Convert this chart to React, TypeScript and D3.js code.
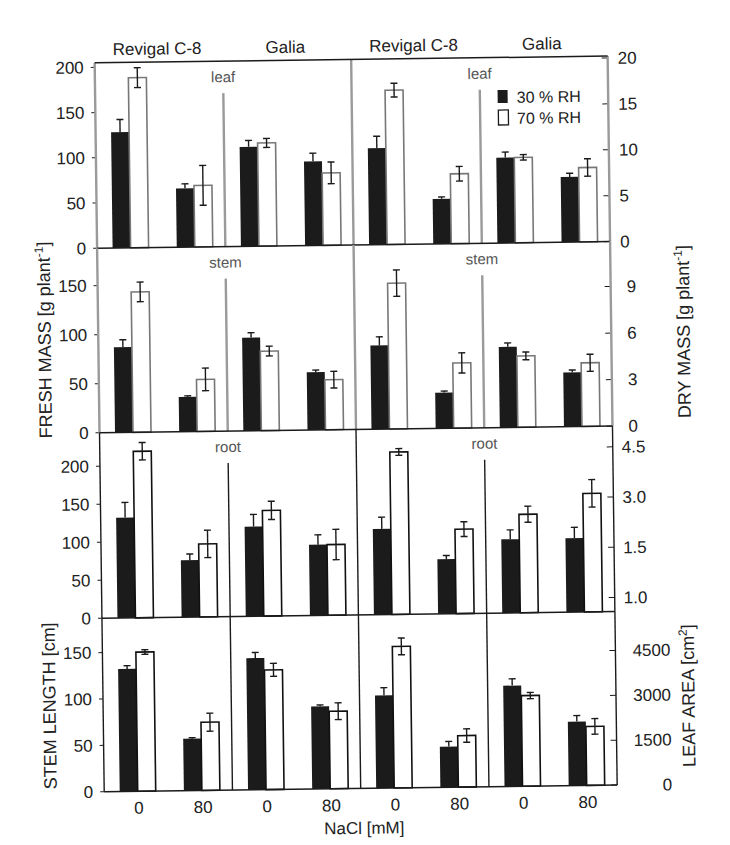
import React from "react";
import * as d3 from "d3";

// ---------- categories ----------
const groups = ["Revigal C-8|0", "Revigal C-8|80", "Galia|0", "Galia|80"];
const cultivars = ["Revigal C-8", "Galia"];
const naclLabels = ["0", "80", "0", "80"];
const seriesNames = ["30 % RH", "70 % RH"];
const organs = ["leaf", "stem", "root", ""];

// ---------- row 1: leaf ----------
const leafFresh30 = [128, 65, 110, 93];
const leafFresh30Err = [14, 5, 7, 9];
const leafFresh70 = [188, 68, 114, 80];
const leafFresh70Err = [11, 22, 5, 12];
const leafDry30 = [10.5, 4.9, 9.3, 7.1];
const leafDry30Err = [1.3, 0.2, 0.6, 0.4];
const leafDry70 = [16.8, 7.6, 9.3, 8.1];
const leafDry70Err = [0.75, 0.8, 0.3, 0.95];

// ---------- row 2: stem ----------
const stemFresh30 = [87, 35.5, 95, 59];
const stemFresh30Err = [7.5, 1, 5, 2];
const stemFresh70 = [143, 53, 81, 51];
const stemFresh70Err = [10, 11.5, 5, 8.5];
const stemDry30 = [5.4, 2.3, 5.2, 3.5];
const stemDry30Err = [0.55, 0.1, 0.25, 0.15];
const stemDry70 = [9.4, 4.2, 4.6, 4.1];
const stemDry70Err = [0.85, 0.65, 0.25, 0.55];

// ---------- row 3: root ----------
const rootFresh30 = [132, 75, 118, 93];
const rootFresh30Err = [20, 8, 16, 13];
const rootFresh70 = [219, 96, 139, 93];
const rootFresh70Err = [11.5, 18, 12, 20];
// dry root in the printed axis's own linear units (tick "1.0" sits at position 0)
const rootDry30 = [2.14, 1.21, 1.78, 1.79];
const rootDry30Err = [0.35, 0.11, 0.28, 0.32];
const rootDry70 = [4.43, 2.1, 2.52, 3.12];
const rootDry70Err = [0.1, 0.22, 0.24, 0.41];

// ---------- row 4: stem length / leaf area ----------
const stemLength30 = [132, 56, 142, 89];
const stemLength30Err = [3.5, 1, 6, 1.5];
const stemLength70 = [150, 73.5, 129, 83.5];
const stemLength70Err = [2.5, 9.7, 7, 9];
const leafArea30 = [3100, 1360, 3370, 2140];
const leafArea30Err = [257, 170, 225, 200];
const leafArea70 = [4730, 1720, 3030, 1970];
const leafArea70Err = [280, 225, 105, 260];

// ---------- axes ----------
const leftDomains = [[0, 205], [0, 188], [0, 244], [0, 187]];
const rightDomains = [[0, 20.2], [0, 11.9], [-0.42, 5.12], [0, 5800]];
const leftTicks = [[0, 50, 100, 150, 200], [0, 50, 100, 150], [0, 50, 100, 150, 200], [0, 50, 100, 150]];
const rightTicks = [[0, 5, 10, 15, 20], [0, 3, 6, 9], [0, 1.5, 3, 4.5], [0, 1500, 3000, 4500]];
const rightTickLabels = [
  ["0", "5", "10", "15", "20"],
  ["0", "3", "6", "9"],
  ["1.0", "1.5", "3.0", "4.5"],
  ["0", "1500", "3000", "4500"],
];

const leftSeries = [
  [leafFresh30, leafFresh30Err, leafFresh70, leafFresh70Err],
  [stemFresh30, stemFresh30Err, stemFresh70, stemFresh70Err],
  [rootFresh30, rootFresh30Err, rootFresh70, rootFresh70Err],
  [stemLength30, stemLength30Err, stemLength70, stemLength70Err],
];
const rightSeries = [
  [leafDry30, leafDry30Err, leafDry70, leafDry70Err],
  [stemDry30, stemDry30Err, stemDry70, stemDry70Err],
  [rootDry30, rootDry30Err, rootDry70, rootDry70Err],
  [leafArea30, leafArea30Err, leafArea70, leafArea70Err],
];

const FONT = "'Liberation Sans', Arial, Helvetica, sans-serif";

export default function App() {
  const W = 730;
  const H = 845;
  const edges = [59.5, 245, 429.5, 615, 788.5];
  const xL = 99.5;
  const xM = 356;
  const xR = 612.5;
  const halfW = 256.5;
  const bw = 18;
  const gx = d3.scalePoint<string>().domain(groups).range([33.5, 226]);
  const frameGray = "#9a9a9a";
  const dark = "#1b1b1b";
  const tickFont = 17;

  const rows = [0, 1, 2, 3];

  const renderHalf = (r: number, side: number) => {
    const off = side === 0 ? xL : xM;
    const dom = side === 0 ? leftDomains[r] : rightDomains[r];
    const y = d3.scaleLinear().domain(dom).range([edges[r + 1], edges[r]]);
    const base = edges[r + 1];
    const [s30, e30, s70, e70] = side === 0 ? leftSeries[r] : rightSeries[r];
    const whiteStroke = r < 2 ? "#777" : "#111";
    const els: any[] = [];
    groups.forEach((g, i) => {
      const c = off + (gx(g) as number);
      const yb = y(s30[i]);
      els.push(<rect key={`b${i}`} x={c - bw} y={yb} width={bw} height={base - yb} fill={dark} />);
      const yw = y(s70[i]);
      els.push(
        <rect key={`w${i}`} x={c} y={yw} width={bw} height={base - yw} fill="#fff" stroke={whiteStroke} strokeWidth={1.6} />
      );
      const cb = c - bw / 2;
      const ybt = y(s30[i] + e30[i]);
      els.push(
        <g key={`eb${i}`} stroke={dark} strokeWidth={1.4}>
          <line x1={cb} x2={cb} y1={yb} y2={ybt} />
          <line x1={cb - 3.5} x2={cb + 3.5} y1={ybt} y2={ybt} />
        </g>
      );
      const cw = c + bw / 2;
      const ywt = y(s70[i] + e70[i]);
      const ywb = y(s70[i] - e70[i]);
      els.push(
        <g key={`ew${i}`} stroke={dark} strokeWidth={1.4}>
          <line x1={cw} x2={cw} y1={ywt} y2={ywb} />
          <line x1={cw - 3.5} x2={cw + 3.5} y1={ywt} y2={ywt} />
          <line x1={cw - 3.5} x2={cw + 3.5} y1={ywb} y2={ywb} />
        </g>
      );
    });
    if (side === 0) {
      leftTicks[r].forEach((t, k) => {
        const ty = y(t);
        els.push(<line key={`lt${k}`} x1={xL - 4} x2={xL} y1={ty} y2={ty} stroke={dark} strokeWidth={1} />);
        els.push(
          <text key={`ll${k}`} x={xL - 11} y={ty + 6} textAnchor="end" fontSize={tickFont} fill="#222">
            {String(t)}
          </text>
        );
      });
    } else {
      const startOff = [10, 16, 9, 0][r];
      rightTicks[r].forEach((t, k) => {
        const ty = y(t);
        els.push(<line key={`rt${k}`} x1={xR - 6} x2={xR} y1={ty} y2={ty} stroke={dark} strokeWidth={1} />);
        els.push(
          <text
            key={`rl${k}`}
            x={r === 3 ? xR + 55 : xR + startOff}
            y={ty + 6}
            textAnchor={r === 3 ? "end" : "start"}
            fontSize={tickFont}
            fill="#222"
          >
            {rightTickLabels[r][k]}
          </text>
        );
      });
    }
    return <g key={`h${r}-${side}`}>{els}</g>;
  };

  return (
    <svg
      width={W}
      height={H}
      style={{ position: "absolute", left: 0, top: 0, background: "#fff" }}
      fontFamily={FONT}
    >
      <rect width={W} height={H} fill="#fff" />
      <g transform="rotate(-0.75 350 430)">
        {rows.map((r) => [renderHalf(r, 0), renderHalf(r, 1)])}

        {rows.map((r) => {
          const col = r < 2 ? frameGray : dark;
          const sw = r < 2 ? 2.4 : 1.4;
          const dividerTop = r < 3 ? edges[r] + 32 : edges[r];
          return (
            <g key={`f${r}`}>
              <line x1={xL} x2={xL} y1={edges[r]} y2={edges[r + 1]} stroke={col} strokeWidth={sw} />
              <line x1={xM} x2={xM} y1={edges[r]} y2={edges[r + 1]} stroke={col} strokeWidth={sw} />
              <line x1={xR} x2={xR} y1={edges[r]} y2={edges[r + 1]} stroke={col} strokeWidth={sw} />
              <line x1={xL + halfW / 2} x2={xL + halfW / 2} y1={dividerTop} y2={edges[r + 1]} stroke={col} strokeWidth={sw} />
              <line x1={xM + halfW / 2} x2={xM + halfW / 2} y1={dividerTop} y2={edges[r + 1]} stroke={col} strokeWidth={sw} />
              <line x1={xL} x2={xR} y1={edges[r + 1]} y2={edges[r + 1]} stroke={dark} strokeWidth={1.5} />
              {organs[r] && (
                <>
                  <text x={xL + halfW / 2} y={edges[r] + 21} textAnchor="middle" fontSize={15} fill="#555">
                    {organs[r]}
                  </text>
                  <text x={xM + halfW / 2} y={edges[r] + 21} textAnchor="middle" fontSize={15} fill="#555">
                    {organs[r]}
                  </text>
                </>
              )}
            </g>
          );
        })}
        <line x1={xL} x2={xR} y1={edges[0]} y2={edges[0]} stroke={dark} strokeWidth={1.5} />

        {[xL, xM].map((off, s) =>
          cultivars.map((cv, k) => {
            const cx = off + ((gx(groups[2 * k]) as number) + (gx(groups[2 * k + 1]) as number)) / 2;
            return (
              <text key={`t${s}${k}`} x={cx - 3} y={52} textAnchor="middle" fontSize={17} fill="#222">
                {cv}
              </text>
            );
          })
        )}

        {[xL, xM].map((off, s) =>
          groups.map((g, i) => (
            <text key={`n${s}${i}`} x={off + (gx(g) as number) + 1} y={811} textAnchor="middle" fontSize={17} fill="#222">
              {naclLabels[i]}
            </text>
          ))
        )}
        <text x={359} y={834} textAnchor="middle" fontSize={17} fill="#222">
          NaCl [mM]
        </text>

        <rect x={502} y={92} width={10} height={13} fill={dark} />
        <text x={521} y={105} fontSize={16} fill="#222">
          {seriesNames[0]}
        </text>
        <rect x={502.5} y={112} width={10} height={15} fill="#fff" stroke={dark} strokeWidth={1.3} />
        <text x={521} y={126} fontSize={16} fill="#222">
          {seriesNames[1]}
        </text>

        <text transform="translate(52,336) rotate(-90)" textAnchor="middle" fontSize={18} fill="#222">
          FRESH MASS [g plant
          <tspan fontSize={12} dy={-7}>-1</tspan>
          <tspan dy={7}>]</tspan>
        </text>
        <text transform="translate(52,702) rotate(-90)" textAnchor="middle" fontSize={18} fill="#222">
          STEM LENGTH [cm]
        </text>
        <text transform="translate(691,336) rotate(-90)" textAnchor="middle" fontSize={18} fill="#222">
          DRY MASS [g plant
          <tspan fontSize={12} dy={-7}>-1</tspan>
          <tspan dy={7}>]</tspan>
        </text>
        <text transform="translate(691,700) rotate(-90)" textAnchor="middle" fontSize={18} fill="#222">
          LEAF AREA [cm
          <tspan fontSize={12} dy={-7}>2</tspan>
          <tspan dy={7}>]</tspan>
        </text>
      </g>
    </svg>
  );
}
